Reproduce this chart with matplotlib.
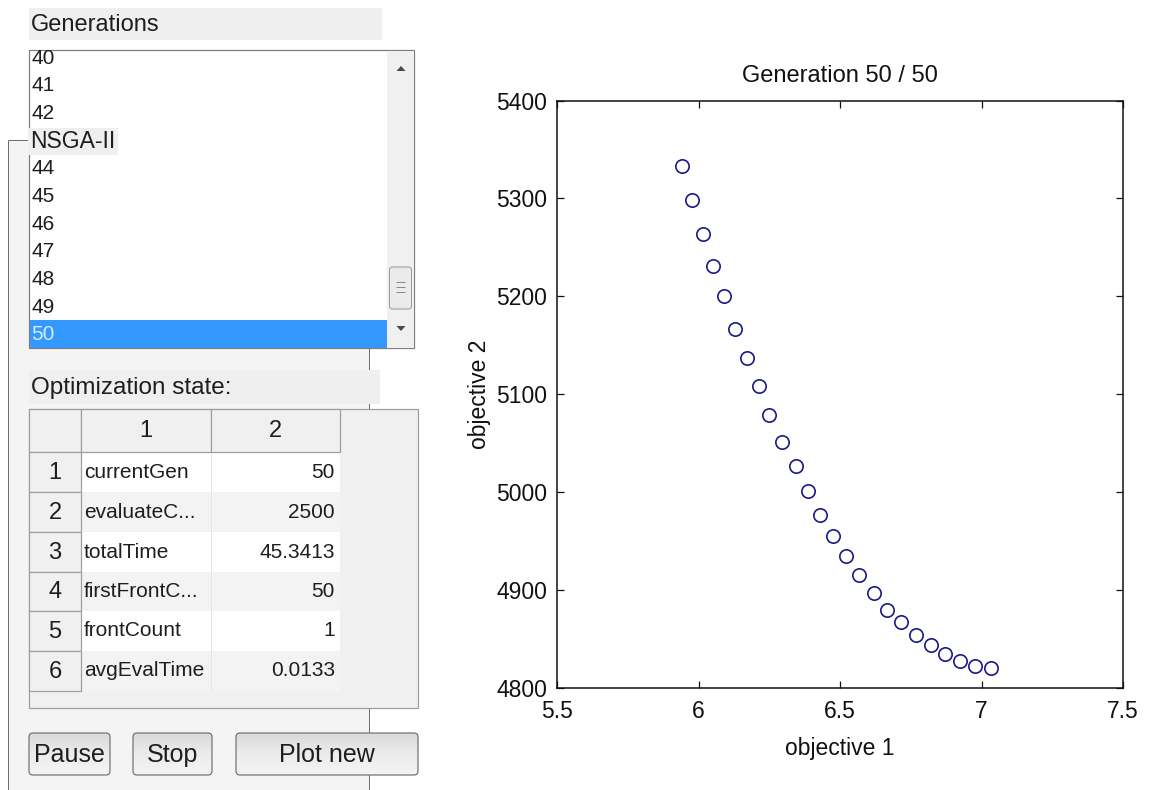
import numpy as np
import matplotlib
matplotlib.use("Agg")
import matplotlib.pyplot as plt
from matplotlib.patches import Rectangle, FancyBboxPatch, Polygon
from matplotlib.ticker import FuncFormatter

plt.rcParams["font.family"] = ["Liberation Sans", "DejaVu Sans"]

# Pareto front of the final generation
obj1 = [5.941, 5.978, 6.015, 6.050, 6.091, 6.129, 6.172, 6.215, 6.250, 6.294,
        6.343, 6.388, 6.429, 6.476, 6.521, 6.568, 6.620, 6.665, 6.714, 6.768,
        6.822, 6.872, 6.924, 6.978, 7.032]
obj2 = [5333, 5298, 5264, 5231, 5200, 5167, 5137, 5108, 5079, 5051,
        5027, 5001, 4977, 4955, 4935, 4915, 4897, 4880, 4867, 4854,
        4844, 4835, 4828, 4822, 4820]

generations = list(range(40, 51))
selected_gen = 50
state_names = ["currentGen", "evaluateC...", "totalTime", "firstFrontC...",
               "frontCount", "avgEvalTime"]
state_values = ["50", "2500", "45.3413", "50", "1", "0.0133"]
table_cols = ["1", "2"]
buttons = ["Pause", "Stop", "Plot new"]
x_ticks = [5.5, 6.0, 6.5, 7.0, 7.5]
y_ticks = [4800, 4900, 5000, 5100, 5200, 5300, 5400]
title = "Generation 50 / 50"

W, H = 1153, 790
fig = plt.figure(figsize=(W / 100, H / 100), dpi=100, facecolor="white")

# ---- GUI layer in pixel coordinates ----
ui = fig.add_axes([0, 0, 1, 1], zorder=0)
ui.set_xlim(0, W)
ui.set_ylim(H, 0)
ui.axis("off")

PX = 0.72  # one pixel in points
TXT = "#1e1e1e"


def box(x0, y0, x1, y1, fc, ec="none", lw=1.0, z=1):
    p = Rectangle((x0, y0), x1 - x0, y1 - y0, facecolor=fc, edgecolor=ec,
                  linewidth=lw * PX, zorder=z)
    ui.add_patch(p)
    return p


def line(xs, ys, c="#6e6e6e", lw=1.0, z=1):
    ui.plot(xs, ys, color=c, linewidth=lw * PX, zorder=z, solid_capstyle="butt")


# NSGA-II panel frame
box(9, 140, 369, 790, "#f4f4f4", z=0.5)
line([8, 8], [140, 790])
line([8, 369], [140, 140])
line([369, 369], [140, 790])
panel_title_box = (28, 128, 118, 155)

# Generations label
box(29, 8, 382, 40, "#efefef", z=2)
ui.text(31, 25, "Generations", fontsize=17, color=TXT, va="center", ha="left", zorder=3)

# Listbox
lb = box(29, 50, 414, 348, "white", ec="#7d7d7d", lw=1.2, z=2)
row_h = 27.7
for i, g in enumerate(generations):
    yc = 58 + i * row_h
    col = TXT
    if g == selected_gen:
        box(30, yc - 15, 387, 347.5, "#3399ff", z=2.2)
        col = "#d4ecff"
    # rows lying under the panel title are covered by it
    if panel_title_box[1] < yc < panel_title_box[3]:
        continue
    t = ui.text(31, yc, str(g), fontsize=15, color=col, va="center", ha="left", zorder=2.5)
    t.set_clip_path(lb)

# scrollbar
box(387, 51, 413.5, 347.5, "#f0f0f0", z=2.3)
ui.add_patch(FancyBboxPatch((389.5, 267), 22, 42, boxstyle="round,pad=0,rounding_size=3",
                            facecolor="#ebebeb", edgecolor="#9a9a9a",
                            linewidth=PX, zorder=2.4))
for gy in (282, 287, 292):
    line([396, 405], [gy, gy], c="#8a8a8a", z=2.5)
ui.add_patch(Polygon([(396.5, 71), (405.5, 71), (401, 66)], closed=True,
                     facecolor="#4a4a4a", edgecolor="none", zorder=2.5))
ui.add_patch(Polygon([(396.5, 326), (405.5, 326), (401, 331)], closed=True,
                     facecolor="#4a4a4a", edgecolor="none", zorder=2.5))

# Panel title
box(*panel_title_box, "#efefef", z=3)
ui.text(30, 142, "NSGA-II", fontsize=16.5, color=TXT, va="center", ha="left", zorder=3.5)

# Optimization state label
box(29, 370, 380, 404, "#efefef", z=3)
ui.text(31, 388, "Optimization state:", fontsize=17.5, color=TXT, va="center",
        ha="left", zorder=3.5)

# State table
box(29, 409, 418, 708, "#f0f0f0", ec="#9d9d9d", lw=1.2, z=3)
hdr_x = [29, 81, 211, 340]
for a, b in zip(hdr_x[:-1], hdr_x[1:]):
    box(a, 409, b, 452, "#f0f0f0", ec="#9d9d9d", lw=1.2, z=3.2)
for j, lab in enumerate(table_cols):
    ui.text((hdr_x[j + 1] + hdr_x[j + 2]) / 2, 431, lab, fontsize=17, color=TXT,
            ha="center", va="center", zorder=3.5)
row_edges = [452, 492, 532, 572, 611, 651, 691]
for i, (name, val) in enumerate(zip(state_names, state_values)):
    r0, r1 = row_edges[i], row_edges[i + 1]
    box(81, r0, 340, r1, "white" if i % 2 == 0 else "#f3f3f3", z=3.1)
    line([211, 211], [r0, r1], c="#e4e4e4", z=3.15)
    box(29, r0, 81, r1, "#f0f0f0", ec="#9d9d9d", lw=1.2, z=3.2)
    yc = (r0 + r1) / 2
    ui.text(55, yc + 1, str(i + 1), fontsize=17, color=TXT, ha="center", va="center", zorder=3.5)
    ui.text(84, yc, name, fontsize=15, color=TXT, ha="left", va="center", zorder=3.5)
    ui.text(335, yc, val, fontsize=15, color=TXT, ha="right", va="center", zorder=3.5)

# Buttons
btn_pos = [(29, 110), (133, 212), (236, 418)]
grad = np.linspace(0, 1, 64).reshape(-1, 1)
btn_cmap = matplotlib.colors.LinearSegmentedColormap.from_list(
    "btn", ["#f4f4f4", "#ececec", "#d9d9d9"])
for (x0, x1), lab in zip(btn_pos, buttons):
    y0, y1 = 733, 775
    p = FancyBboxPatch((x0, y0), x1 - x0, y1 - y0,
                       boxstyle="round,pad=0,rounding_size=4",
                       facecolor="none", edgecolor="#707070", linewidth=1.2 * PX, zorder=3.6)
    ui.add_patch(p)
    im = ui.imshow(grad, cmap=btn_cmap, extent=(x0, x1, y0, y1), aspect="auto",
                   zorder=3.4, origin="upper")
    im.set_clip_path(p)
    ui.text((x0 + x1) / 2, (y0 + y1) / 2 + 1, lab, fontsize=18, color=TXT,
            ha="center", va="center", zorder=3.7)
ui.set_xlim(0, W)
ui.set_ylim(H, 0)

# ---- scatter of the final front ----
ax = fig.add_axes([557 / W, (H - 688) / H, (1123 - 557) / W, (688 - 100.5) / H], zorder=2)
ax.plot(obj1, obj2, linestyle="none", marker="o", markerfacecolor="none",
        markeredgecolor="#1a1a84", markersize=9.6, markeredgewidth=1.2)
ax.set_xlim(x_ticks[0], x_ticks[-1])
ax.set_ylim(y_ticks[0], y_ticks[-1])
ax.set_xticks(x_ticks)
ax.set_yticks(y_ticks)
ax.xaxis.set_major_formatter(FuncFormatter(lambda v, p: f"{v:g}"))
ax.yaxis.set_major_formatter(FuncFormatter(lambda v, p: f"{v:g}"))
ax.tick_params(direction="in", top=True, right=True, length=5, width=0.9,
               labelsize=16.5, colors="#111111")
ax.tick_params(axis="x", pad=9)
ax.tick_params(axis="y", pad=7)
for s in ax.spines.values():
    s.set_linewidth(1.1)
    s.set_color("#111111")
ax.set_title(title, fontsize=17, color="#111111", pad=13)
ax.set_xlabel("objective 1", fontsize=16.5, color="#111111", labelpad=10)
ax.set_ylabel("objective 2", fontsize=16.5, color="#111111", labelpad=4)

fig.savefig("out.png", dpi=100, facecolor="white")
